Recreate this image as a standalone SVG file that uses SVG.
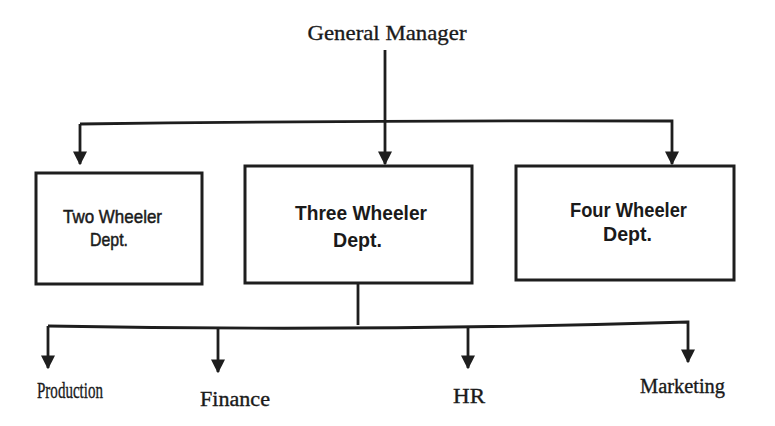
<svg xmlns="http://www.w3.org/2000/svg" width="775" height="426" viewBox="0 0 775 426">
<style>
.box{fill:#ffffff;stroke:#1e1e1e;stroke-width:3}
.ln{fill:none;stroke:#1e1e1e;stroke-width:2.8}
.ser{font-family:"Liberation Serif","Times New Roman",serif;fill:#1a1a1a;stroke:#1a1a1a;stroke-width:0.35;text-anchor:middle}
.san{font-family:"Liberation Sans",Arial,sans-serif;fill:#1a1a1a;text-anchor:middle}
</style>
<defs>
<marker id="ah" viewBox="0 0 10 10" refX="9" refY="5" markerWidth="5" markerHeight="5" orient="auto" markerUnits="strokeWidth">
<path d="M0,0 L10,5 L0,10 Z" fill="#1e1e1e"/>
</marker>
</defs>
<rect width="775" height="426" fill="#ffffff"/>
<g id="connectors">
<line class="ln" x1="385" y1="50" x2="385" y2="164" marker-end="url(#ah)"/>
<path class="ln" d="M80,124 Q380,120 672,121 L672,164" marker-end="url(#ah)"/>
<path class="ln" d="M80,124 L80,164" marker-end="url(#ah)"/>
<line class="ln" x1="358" y1="284" x2="358" y2="325"/>
<path class="ln" d="M48,326 Q360,332 688,322 L688,362" marker-end="url(#ah)"/>
<path class="ln" d="M48,326 L48,368" marker-end="url(#ah)"/>
<line class="ln" x1="218" y1="329" x2="218" y2="372" marker-end="url(#ah)"/>
<line class="ln" x1="468" y1="327" x2="468" y2="368" marker-end="url(#ah)"/>
</g>
<g id="gm">
<text class="ser" x="387" y="40" font-size="22" textLength="159" lengthAdjust="spacingAndGlyphs">General Manager</text>
</g>
<g id="two-wheeler">
<rect class="box" x="36" y="173" width="166" height="111"/>
<text class="san" x="112.5" y="223" font-size="19" stroke="#1a1a1a" stroke-width="0.5" textLength="99" lengthAdjust="spacingAndGlyphs">Two Wheeler</text>
<text class="san" x="109" y="246" font-size="19" stroke="#1a1a1a" stroke-width="0.5" textLength="38" lengthAdjust="spacingAndGlyphs">Dept.</text>
</g>
<g id="three-wheeler">
<rect class="box" x="245" y="166" width="227" height="117"/>
<text class="san" x="361" y="220" font-size="21" font-weight="bold" textLength="132" lengthAdjust="spacingAndGlyphs">Three Wheeler</text>
<text class="san" x="357.5" y="247" font-size="21" font-weight="bold" textLength="49" lengthAdjust="spacingAndGlyphs">Dept.</text>
</g>
<g id="four-wheeler">
<rect class="box" x="516" y="166" width="218" height="114"/>
<text class="san" x="628.5" y="217" font-size="21" font-weight="bold" textLength="117" lengthAdjust="spacingAndGlyphs">Four Wheeler</text>
<text class="san" x="627.5" y="241" font-size="21" font-weight="bold" textLength="49" lengthAdjust="spacingAndGlyphs">Dept.</text>
</g>
<g id="production"><text class="ser" x="70" y="398" font-size="23" textLength="66" lengthAdjust="spacingAndGlyphs">Production</text></g>
<g id="finance"><text class="ser" x="235" y="406" font-size="20" textLength="70" lengthAdjust="spacingAndGlyphs">Finance</text></g>
<g id="hr"><text class="ser" x="469" y="403" font-size="22" textLength="32" lengthAdjust="spacingAndGlyphs">HR</text></g>
<g id="marketing"><text class="ser" x="682.5" y="393" font-size="20" textLength="85" lengthAdjust="spacingAndGlyphs">Marketing</text></g>
</svg>
